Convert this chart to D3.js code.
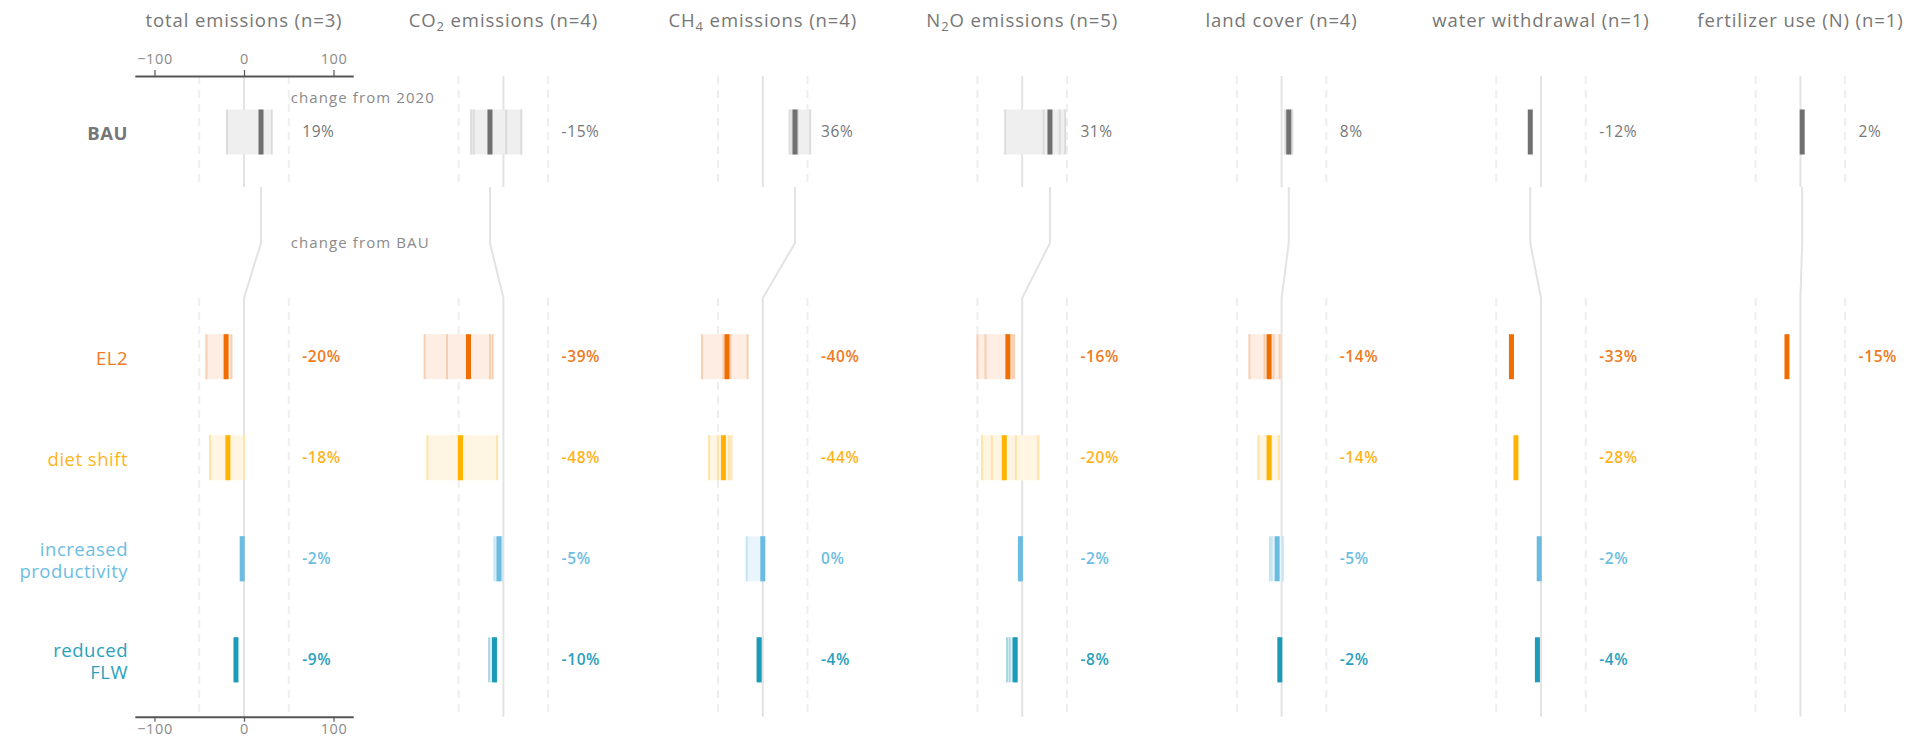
<!DOCTYPE html>
<html>
<head>
<meta charset="utf-8">
<script src="https://cdn.jsdelivr.net/npm/d3@7"></script>
<style>
  html, body { margin: 0; padding: 0; background: #fff; }
  svg { display: block; font-family: "Open Sans", "Noto Sans", sans-serif; }
</style>
</head>
<body>
<svg id="chart" width="1909" height="741"></svg>
<script>
// Indicators (panels); {n} marks a subscript
const panelNames = ["total emissions", "CO{2} emissions", "CH{4} emissions", "N{2}O emissions",
                    "land cover", "water withdrawal", "fertilizer use (N)"];
const modelCounts = [3, 4, 4, 5, 4, 1, 1];

const scenarios = ["BAU", "EL2", "diet shift", "increased productivity", "reduced FLW"];
const scenarioLabelLines = [["BAU"], ["EL2"], ["diet shift"], ["increased", "productivity"], ["reduced", "FLW"]];

const axisTicks = [-100, 0, 100];

// Median change (%) per panel: BAU relative to 2020, others relative to BAU
const centralBAU  = [19, -15, 36, 31, 8, -12, 2];
const centralEL2  = [-20, -39, -40, -16, -14, -33, -15];
const centralDiet = [-18, -48, -44, -20, -14, -28, null];
const centralProd = [-2, -5, 0, -2, -5, -2, null];
const centralFLW  = [-9, -10, -4, -8, -2, -4, null];

// Individual model results (%) per panel
const modelsBAU = [[-19, 19, 31], [-36, -33, 3, 20], [30, 33, 39, 53], [-19, 24, 31, 42, 48],
                   [4, 8, 8, 12], [-12], [2]];
const modelsEL2 = [[-42, -20, -14], [-88, -63, -15, -12], [-68, -44, -36, -17], [-50, -41, -16, -11, -9],
                   [-36, -19, -9, -2], [-33], [-15]];
const modelsDiet = [[-38, -18, 0], [-85, -50, -46, -7], [-60, -50, -38, -35], [-45, -34, -20, -7, 18],
                    [-26, -15, -13, -3], [-28], null];
const modelsProd = [[-3, -2, -1], [-10, -6, -4, -2], [-18, -1, 1, 1], [-3, -2, -2, -2, -1],
                    [-13, -11, 1, 1], [-2], null];
const modelsFLW = [[-10, -9, -8], [-16, -11, -9, -8], [-6, -4, -4, -3], [-17, -14, -8, -7, -6],
                   [-3, -2, -2, -1], [-4], null];

const centralByScenario = [centralBAU, centralEL2, centralDiet, centralProd, centralFLW];
const modelsByScenario = [modelsBAU, modelsEL2, modelsDiet, modelsProd, modelsFLW];

// Styles per scenario
const palette = [
  { dark: "#707070", band: "#efefef", thin: "#dcdcdc", text: "#767676" },
  { dark: "#f06d00", band: "#fdede2", thin: "#f8cfb2", text: "#f07a22" },
  { dark: "#ffb300", band: "#fff5e2", thin: "#ffe3a8", text: "#ffb41c" },
  { dark: "#6cbbe0", band: "#eaf5fb", thin: "#c6e4f3", text: "#6dbde2" },
  { dark: "#1c9bb8", band: "#e2f2f6", thin: "#a9d8e4", text: "#2a9fbd" }
];

const svg = d3.select("#chart");

// Layout
const panelCenter = d3.scaleLinear().domain([0, panelNames.length - 1]).range([244, 1800.4]);
const halfWidth = 109.2;
const xScales = panelNames.map((_, i) =>
  d3.scaleLinear().domain([-122, 122]).range([panelCenter(i) - halfWidth, panelCenter(i) + halfWidth]));

const bauY = 132;
const rowY = d3.scalePoint().domain(scenarios.slice(1)).range([356.7, 659.8]);
const yOf = s => s === "BAU" ? bauY : rowY(s);
const barH = 45;

const topGrid = [76, 187];
const lowGrid = [298, 716.7];
const connectorKnee = 243;

const gridColor = "#e3e3e3";
const dashColor = "#eeeeee";

// Gridlines: zero line and ±50 dashed references in each section
panelNames.forEach((_, i) => {
  const x = xScales[i];
  const g = svg.append("g");
  [topGrid, lowGrid].forEach(([y0, y1]) => {
    [-50, 50].forEach(v => {
      g.append("line").attr("x1", x(v)).attr("x2", x(v)).attr("y1", y0).attr("y2", y1)
        .attr("stroke", dashColor).attr("stroke-width", 2).attr("stroke-dasharray", "8,6");
    });
    g.append("line").attr("x1", x(0)).attr("x2", x(0)).attr("y1", y0).attr("y2", y1)
      .attr("stroke", gridColor).attr("stroke-width", 2);
  });
  // connector from the BAU median down to the change-from-BAU zero line
  g.append("path")
    .attr("d", d3.line()([[x(centralBAU[i]), topGrid[1]], [x(centralBAU[i]), connectorKnee], [x(0), lowGrid[0]]]))
    .attr("fill", "none").attr("stroke", gridColor).attr("stroke-width", 2);
});

// Panel titles
panelNames.forEach((name, i) => {
  const t = svg.append("text")
    .attr("x", panelCenter(i)).attr("y", 27)
    .attr("text-anchor", "middle")
    .attr("fill", "#767676").attr("font-size", 18.5).attr("letter-spacing", 0.9);
  const parts = name.split(/\{(\d)\}/);
  parts.forEach((p, k) => {
    if (k % 2 === 1) {
      t.append("tspan").text(p).attr("font-size", 13).attr("dy", 4);
    } else if (p.length) {
      t.append("tspan").text(p).attr("dy", k > 0 ? -4 : 0);
    }
  });
  t.append("tspan").text(` (n=${modelCounts[i]})`);
});

// Axes on the first panel
const fmt = d3.format("d");
const topAxis = svg.append("g").attr("transform", "translate(0,76)")
  .call(d3.axisTop(xScales[0]).tickValues(axisTicks).tickSizeInner(6).tickSizeOuter(0).tickPadding(6).tickFormat(fmt));
const bottomAxis = svg.append("g").attr("transform", `translate(0,${lowGrid[1]})`)
  .call(d3.axisBottom(xScales[0]).tickValues(axisTicks).tickSizeInner(5).tickSizeOuter(0).tickPadding(2).tickFormat(fmt));
[topAxis, bottomAxis].forEach(a => {
  a.select(".domain").attr("stroke", "#555").attr("stroke-width", 2);
  a.selectAll(".tick line").attr("stroke", "#555").attr("stroke-width", 1.2);
  a.selectAll(".tick text").attr("fill", "#8a8a8a").attr("font-size", 14.5)
    .attr("font-family", "'Open Sans', sans-serif").attr("letter-spacing", 0.6);
});

// Section notes
svg.append("text").attr("x", 290.7).attr("y", 98).attr("dy", "0.35em")
  .attr("fill", "#8a8a8a").attr("font-size", 15).attr("letter-spacing", 1.1).text("change from 2020");
svg.append("text").attr("x", 290.7).attr("y", 243).attr("dy", "0.35em")
  .attr("fill", "#8a8a8a").attr("font-size", 15).attr("letter-spacing", 1.1).text("change from BAU");

// Row labels
scenarios.forEach((s, r) => {
  const lines = scenarioLabelLines[r];
  const cy = yOf(s);
  const t = svg.append("text").attr("text-anchor", "end")
    .attr("fill", palette[r].text)
    .attr("font-size", 18.5).attr("letter-spacing", 0.5)
    .attr("font-weight", r === 0 ? 700 : 500);
  lines.forEach((ln, k) => {
    t.append("tspan").attr("x", 128)
      .attr("y", cy + (k - (lines.length - 1) / 2) * 22 + 2)
      .attr("dy", "0.35em").text(ln);
  });
});

// Range bands, model lines, medians and value labels
scenarios.forEach((s, r) => {
  const cy = yOf(s);
  const col = palette[r];
  panelNames.forEach((_, i) => {
    const models = modelsByScenario[r][i];
    const central = centralByScenario[r][i];
    if (models == null || central == null) return;
    const x = xScales[i];
    const g = svg.append("g");
    const [lo, hi] = d3.extent(models);
    if (models.length > 1) {
      g.append("rect").attr("x", x(lo)).attr("width", x(hi) - x(lo))
        .attr("y", cy - barH / 2).attr("height", barH).attr("fill", col.band);
      g.selectAll(null).data(models).join("rect")
        .attr("x", d => x(d) - 1).attr("width", 2)
        .attr("y", cy - barH / 2).attr("height", barH).attr("fill", col.thin);
    }
    g.append("rect").attr("x", x(central) - 2.5).attr("width", 5)
      .attr("y", cy - barH / 2).attr("height", barH).attr("fill", col.dark);
    svg.append("text").attr("x", x(65)).attr("y", cy).attr("dy", "0.35em")
      .attr("fill", col.text).attr("font-size", 15.5).attr("letter-spacing", 0.6)
      .attr("font-weight", r === 0 ? 400 : 600)
      .text(`${central}%`);
  });
});
</script>
</body>
</html>
